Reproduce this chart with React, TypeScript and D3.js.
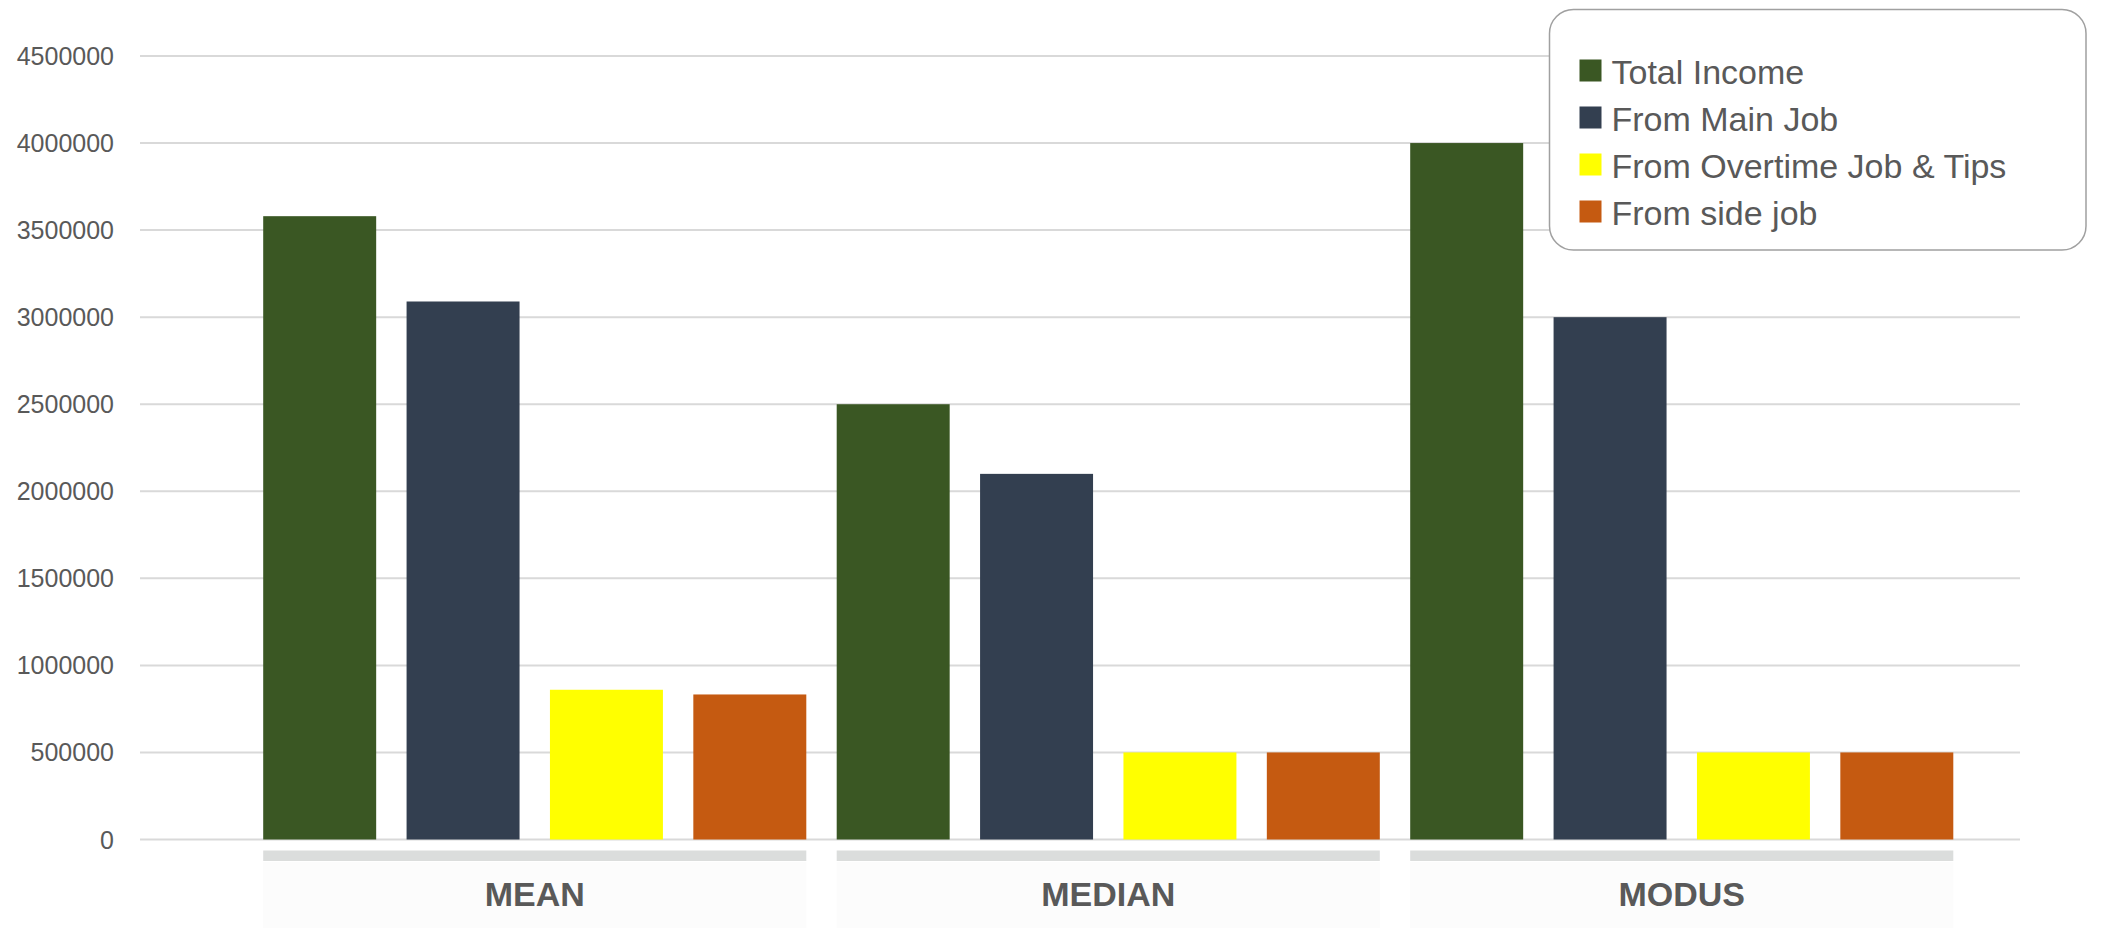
import React from "react";
import * as d3 from "d3";

const categories = ["MEAN", "MEDIAN", "MODUS"];
const seriesNames = ["Total Income", "From Main Job", "From Overtime Job & Tips", "From side job"];
const seriesColors = ["#3a5723", "#333f50", "#ffff00", "#c55a11"];
const totalIncome = [3580000, 2500000, 4000000];
const fromMainJob = [3090000, 2100000, 3000000];
const fromOvertime = [860000, 500000, 500000];
const fromSideJob = [833000, 500000, 500000];
const yTicks = [0, 500000, 1000000, 1500000, 2000000, 2500000, 3000000, 3500000, 4000000, 4500000];

const W = 2104;
const H = 937;

export default function App() {
  const series = [totalIncome, fromMainJob, fromOvertime, fromSideJob];
  const y = d3.scaleLinear().domain([0, 4500000]).range([839.5, 56]);
  const x0 = d3.scaleBand<string>().domain(categories).range([248, 1968.5]).padding(0);
  const x1 = d3
    .scaleBand<string>()
    .domain(seriesNames)
    .range([0, x0.bandwidth()])
    .paddingInner(0.212)
    .paddingOuter(0.106);
  const gridX0 = 140;
  const gridX1 = 2020;
  const textColor = "#595959";

  return (
    <div style={{ position: "absolute", left: 0, top: 0 }}>
      <svg width={W} height={H} style={{ display: "block", background: "#ffffff" }}>
        {/* gridlines */}
        {yTicks.map((t) => (
          <line
            key={"g" + t}
            x1={gridX0}
            x2={gridX1}
            y1={y(t)}
            y2={y(t)}
            stroke="#d9d9d9"
            strokeWidth={2}
          />
        ))}
        {/* y tick labels */}
        {yTicks.map((t) => (
          <text
            key={"t" + t}
            x={114}
            y={y(t)}
            textAnchor="end"
            dominantBaseline="central"
            fontFamily="'Liberation Sans', Arial, sans-serif"
            fontSize={25}
            fill={textColor}
          >
            {t}
          </text>
        ))}
        {/* bars */}
        {categories.map((c, ci) => (
          <g key={c} transform={`translate(${x0(c)},0)`}>
            {seriesNames.map((s, si) => {
              const v = series[si][ci];
              return (
                <rect
                  key={s}
                  x={x1(s)}
                  y={y(v)}
                  width={x1.bandwidth()}
                  height={y(0) - y(v)}
                  fill={seriesColors[si]}
                />
              );
            })}
          </g>
        ))}
        {/* category bands and labels */}
        {categories.map((c) => {
          const gx0 = (x0(c) as number) + (x1(seriesNames[0]) as number);
          const gx1 = (x0(c) as number) + (x1(seriesNames[3]) as number) + x1.bandwidth();
          return (
            <g key={"cat" + c}>
              <rect x={gx0} y={862} width={gx1 - gx0} height={66} fill="#fcfcfc" />
              <rect x={gx0} y={850.5} width={gx1 - gx0} height={10.5} fill="#dbdddc" />
              <text
                x={(x0(c) as number) + x0.bandwidth() / 2}
                y={906}
                textAnchor="middle"
                fontFamily="'Liberation Sans', Arial, sans-serif"
                fontWeight="bold"
                fontSize={34}
                fill={textColor}
              >
                {c}
              </text>
            </g>
          );
        })}
        {/* legend */}
        <g>
          <rect
            x={1549.5}
            y={9.5}
            width={536.5}
            height={240.5}
            rx={24}
            ry={24}
            fill="#ffffff"
            stroke="#a0a0a0"
            strokeWidth={1.5}
          />
          {seriesNames.map((s, i) => (
            <g key={"lg" + s} transform={`translate(1579.5, ${59.5 + i * 47})`}>
              <rect x={0} y={0} width={22} height={22} fill={seriesColors[i]} />
              <text
                x={32}
                y={24}
                fontFamily="'Liberation Sans', Arial, sans-serif"
                fontSize={34}
                fill={textColor}
              >
                {s}
              </text>
            </g>
          ))}
        </g>
      </svg>
    </div>
  );
}
